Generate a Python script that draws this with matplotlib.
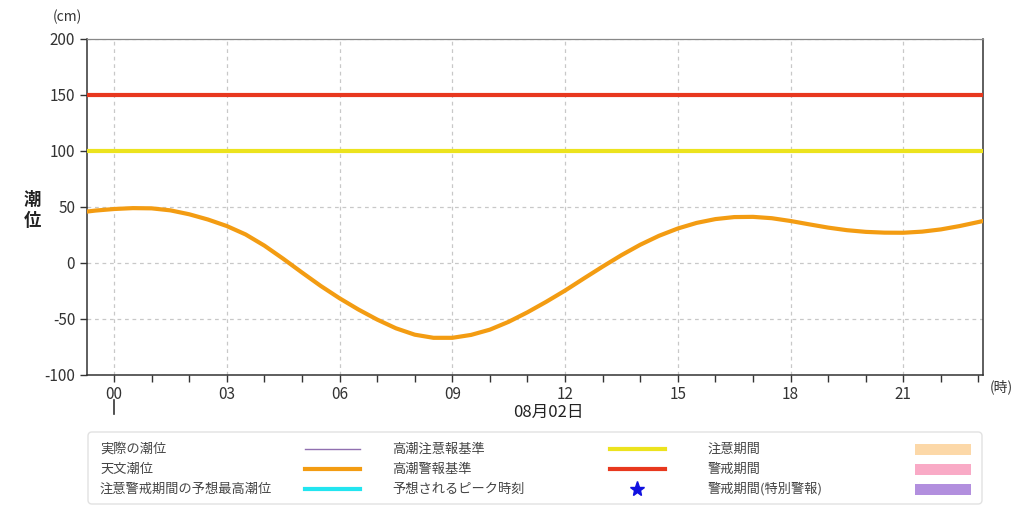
import matplotlib.pyplot as plt
from matplotlib.patches import FancyBboxPatch, Rectangle
import numpy as np

plt.rcParams['font.family'] = ['Noto Sans CJK JP', 'DejaVu Sans']
plt.rcParams['axes.unicode_minus'] = False

# 天文潮位 (時刻: 08月02日 00時からの時間)
horas = [-0.75, -0.5, 0, 0.5, 1.0, 1.5, 2.0, 2.5, 3.0, 3.5, 4.0, 4.5, 5.0, 5.5,
         6.0, 6.5, 7.0, 7.5, 8.0, 8.5, 9.0, 9.5, 10.0, 10.5, 11.0, 11.5, 12.0,
         12.5, 13.0, 13.5, 14.0, 14.5, 15.0, 15.5, 16.0, 16.5, 17.0, 17.5, 18.0,
         18.5, 19.0, 19.5, 20.0, 20.5, 21.0, 21.5, 22.0, 22.5, 23.0, 23.12]
tenmon = [45.8, 46.8, 48.2, 49.0, 48.8, 47.0, 43.5, 38.8, 33.0, 25.5, 15.5, 3.8,
          -8.5, -20.5, -31.5, -41.5, -50.5, -58.3, -64.0, -66.8, -66.8, -64.2,
          -59.5, -52.5, -44.0, -34.6, -24.6, -13.8, -3.2, 7.0, 16.3, 24.3, 30.8,
          35.8, 39.2, 41.0, 41.2, 40.0, 37.5, 34.5, 31.6, 29.3, 27.8, 27.1, 27.0,
          28.0, 30.0, 33.0, 36.6, 37.5]

kijun_chui = 100   # 高潮注意報基準
kijun_keiho = 150  # 高潮警報基準

xticks = [0, 3, 6, 9, 12, 15, 18, 21]
xlabels = ['00', '03', '06', '09', '12', '15', '18', '21']
yticks = [-100, -50, 0, 50, 100, 150, 200]

c_orange = '#f39c12'
c_red = '#e8381e'
c_yellow = '#ece31e'

fig = plt.figure(figsize=(10.24, 5.16), dpi=100)
ax = fig.add_axes([87 / 1024, 1 - 375 / 516, 896 / 1024, 336 / 516])

ax.axhline(kijun_keiho, color=c_red, lw=3, zorder=3)
ax.axhline(kijun_chui, color=c_yellow, lw=3, zorder=3)
ax.plot(horas, tenmon, color=c_orange, lw=3, zorder=4, solid_joinstyle='round')

ax.set_xlim(-0.72, 23.12)
ax.set_ylim(-100, 200)
ax.set_xticks(xticks)
ax.set_xticklabels(xlabels)
ax.set_xticks(np.arange(0, 24, 1), minor=True)
ax.set_yticks(yticks)

ax.grid(True, which='major', color='#c8c8c8', linestyle=(0, (3, 3)), lw=0.9)
ax.tick_params(axis='both', which='major', labelsize=11, colors='#333333',
               length=5, width=1, direction='out')
ax.tick_params(axis='x', which='minor', length=5, width=1, color='#333333')
ax.tick_params(axis='x', pad=3)

ax.spines['top'].set_color('#888888')
ax.spines['top'].set_linewidth(0.9)
for s in ['left', 'bottom', 'right']:
    ax.spines[s].set_color('#333333')
    ax.spines[s].set_linewidth(1.1)

fig.text(67 / 1024, 1 - 17 / 516, '(cm)', fontsize=10, color='#333333',
         ha='center', va='center')
fig.text(32 / 1024, 1 - 200 / 516, '潮', fontsize=12.5, fontweight='bold',
         ha='center', va='center', color='#222222')
fig.text(32 / 1024, 1 - 221 / 516, '位', fontsize=12.5, fontweight='bold',
         ha='center', va='center', color='#222222')
fig.text(1001 / 1024, 1 - 387 / 516, '(時)', fontsize=10, color='#333333',
         ha='center', va='center')
fig.text(548 / 1024, 1 - 412 / 516, '08月02日', fontsize=12, color='#222222',
         ha='center', va='center')
fig.add_artist(plt.Line2D([114 / 1024, 114 / 1024], [1 - 400 / 516, 1 - 414 / 516],
                          color='#333333', lw=1.2))

# 凡例
lg = fig.add_axes([0, 0, 1, 1])
lg.set_xlim(0, 1024)
lg.set_ylim(516, 0)
lg.axis('off')
lg.add_patch(FancyBboxPatch((88, 432), 894, 72, boxstyle='round,pad=0,rounding_size=4',
                            fc='white', ec='#e2e2e2', lw=1))

filas = [449, 469, 489]
col1 = ['実際の潮位', '天文潮位', '注意警戒期間の予想最高潮位']
col2 = ['高潮注意報基準', '高潮警報基準', '予想されるピーク時刻']
col3 = ['注意期間', '警戒期間', '警戒期間(特別警報)']
lineas1 = [('#9070b0', 1), (c_orange, 3), ('#22e5f0', 3)]
lineas2 = [(c_yellow, 3), (c_red, 3)]
parches = ['#fcd8a8', '#f9aac6', '#b28fde']

for i, y in enumerate(filas):
    lg.text(100, y, col1[i], fontsize=9.5, color='#444444', va='center')
    lg.text(392, y, col2[i], fontsize=9.5, color='#444444', va='center')
    lg.text(708, y, col3[i], fontsize=9.5, color='#444444', va='center')
    c, w = lineas1[i]
    lg.plot([305, 360], [y, y], color=c, lw=w)
    if i < 2:
        c, w = lineas2[i]
        lg.plot([610, 665], [y, y], color=c, lw=w)
    else:
        lg.plot([637], [y], marker='*', color='#1010e0', ms=11, ls='none')
    lg.add_patch(Rectangle((915, y - 5.5), 56, 11, fc=parches[i], ec='none'))

fig.savefig('out.png', dpi=100)
